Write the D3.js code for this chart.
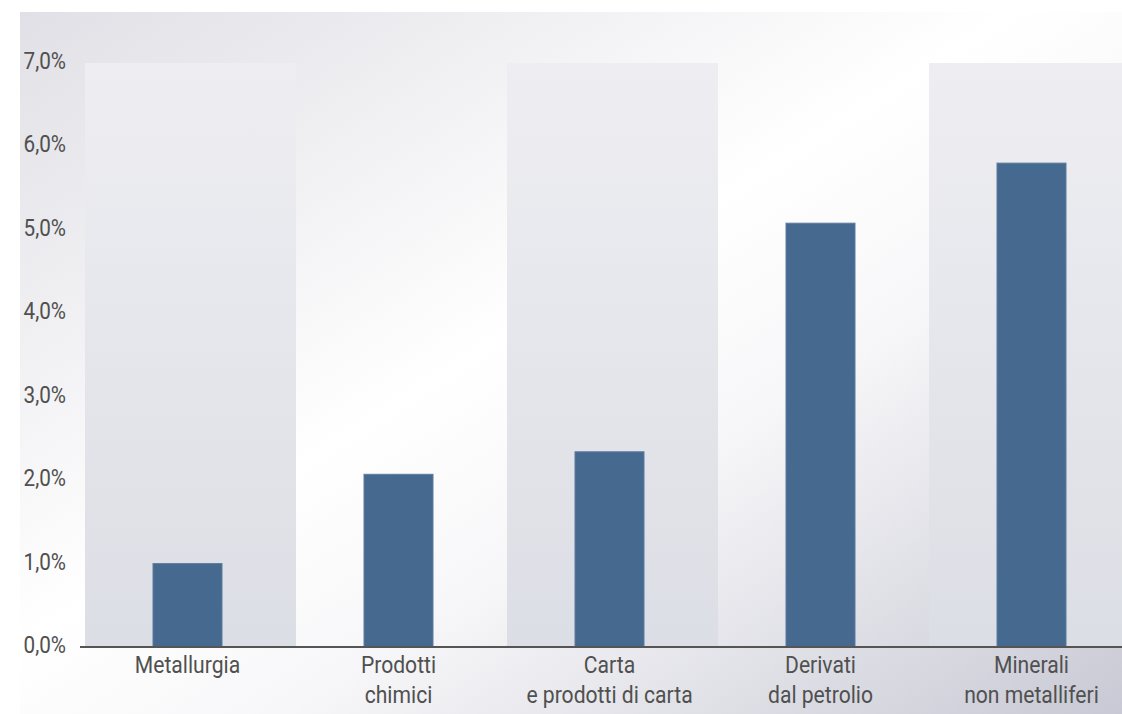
<!DOCTYPE html>
<html>
<head>
<meta charset="utf-8">
<script src="https://cdn.jsdelivr.net/npm/d3@7"></script>
<style>
  html, body { margin: 0; padding: 0; background: #fff; }
  svg { display: block; }
</style>
</head>
<body>
<svg width="1122" height="714"></svg>
<script>
const width = 1122;
const height = 714;

// data
const categories = ["Metallurgia", "Prodotti chimici", "Carta e prodotti di carta", "Derivati dal petrolio", "Minerali non metalliferi"];
const labelLines = [["Metallurgia"], ["Prodotti", "chimici"], ["Carta", "e prodotti di carta"], ["Derivati", "dal petrolio"], ["Minerali", "non metalliferi"]];
const values = [1.0, 2.07, 2.34, 5.08, 5.80];
const yTicks = [0, 1, 2, 3, 4, 5, 6, 7];

const plotLeft = 85, plotTop = 63, plotBottom = 647;
const bandStep = 211;
const barWidth = 69;
const squeeze = 0.88; // fake a condensed face

const svg = d3.select("svg");
const defs = svg.append("defs");

const bg = defs.append("linearGradient")
    .attr("id", "bg-grad")
    .attr("x1", "0%").attr("y1", "0%")
    .attr("x2", "100%").attr("y2", "100%");
bg.append("stop").attr("offset", "0%").attr("stop-color", "#e0e0e6");
bg.append("stop").attr("offset", "45%").attr("stop-color", "#ffffff");
bg.append("stop").attr("offset", "62%").attr("stop-color", "#f7f7f9");
bg.append("stop").attr("offset", "100%").attr("stop-color", "#c8c9d4");

const bandGrad = defs.append("linearGradient")
    .attr("id", "band-grad")
    .attr("x1", "0%").attr("y1", "0%")
    .attr("x2", "0%").attr("y2", "100%");
bandGrad.append("stop").attr("offset", "0%").attr("stop-color", "#eeeef2");
bandGrad.append("stop").attr("offset", "100%").attr("stop-color", "#dcdee5");

svg.append("rect")
    .attr("x", 20)
    .attr("y", 12)
    .attr("width", width - 20)
    .attr("height", height - 12)
    .attr("fill", "url(#bg-grad)");

const x = d3.scaleBand()
    .domain(categories)
    .range([plotLeft, plotLeft + bandStep * categories.length])
    .padding(0);

const y = d3.scaleLinear()
    .domain([0, 7])
    .range([plotBottom, plotTop]);

// alternating shaded bands
svg.selectAll("rect.band")
    .data(categories.filter((d, i) => i % 2 === 0))
    .join("rect")
    .attr("class", "band")
    .attr("x", d => x(d))
    .attr("y", y(7))
    .attr("width", x.bandwidth())
    .attr("height", y(0) - y(7))
    .attr("fill", "url(#band-grad)");

// bars
svg.selectAll("rect.bar")
    .data(values)
    .join("rect")
    .attr("class", "bar")
    .attr("x", (d, i) => x(categories[i]) + x.bandwidth() / 2 - 3 - barWidth / 2)
    .attr("y", d => y(d))
    .attr("width", barWidth)
    .attr("height", d => y(0) - y(d))
    .attr("fill", "#46698f")
    .attr("stroke", "#5d7c9e")
    .attr("stroke-width", 1);

// y tick labels
svg.selectAll("text.ytick")
    .data(yTicks)
    .join("text")
    .attr("class", "ytick")
    .attr("transform", d => `translate(66,${y(d) + 6}) scale(${squeeze},1)`)
    .attr("text-anchor", "end")
    .attr("font-family", "Roboto, sans-serif")
    .attr("font-size", "23.5px")
    .attr("fill", "#505050")
    .text(d => d3.format(".1f")(d).replace(".", ",") + "%");

// baseline
svg.append("line")
    .attr("x1", 80)
    .attr("x2", width)
    .attr("y1", y(0))
    .attr("y2", y(0))
    .attr("stroke", "#555")
    .attr("stroke-width", 2);

// category labels
const labels = svg.selectAll("text.xlab")
    .data(categories)
    .join("text")
    .attr("class", "xlab")
    .attr("transform", d => `translate(${x(d) + x.bandwidth() / 2 - 3},673) scale(${squeeze},1)`)
    .attr("text-anchor", "middle")
    .attr("font-family", "Roboto, sans-serif")
    .attr("font-size", "24px")
    .attr("fill", "#505050");

labels.selectAll("tspan")
    .data((d, i) => labelLines[i])
    .join("tspan")
    .attr("x", 0)
    .attr("y", (d, j) => j * 30)
    .text(d => d);
</script>
</body>
</html>
